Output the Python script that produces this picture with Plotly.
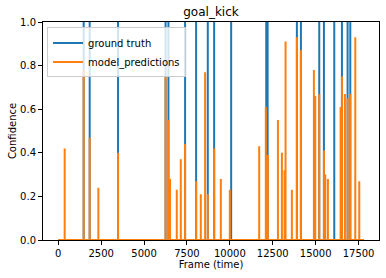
import plotly.graph_objects as go

# ---- data ----
frame_start = 0
frame_end = 17800

gt_frames = [1480, 1830, 3483, 6253, 6420, 7390, 8033, 8713, 9083, 10075,
             12120, 12200, 13905, 14140, 15208, 15480, 16083, 16530, 16860, 17017]
gt_values = [1.0] * len(gt_frames)

pred_frames = [373, 1480, 1830, 2335, 3483, 6253, 6420, 6515, 6905, 7140,
               7390, 8033, 8305, 8557, 8713, 9083, 9473, 9996, 11708, 12095,
               12212, 12800, 13033, 13187, 13245, 13613, 13905, 14140, 14897, 14975,
               15208, 15480, 15558, 15713, 16452, 16530, 16705, 16860, 17017, 17308,
               17541]
pred_values = [0.42, 0.78, 0.47, 0.24, 0.40, 0.75, 0.55, 0.28, 0.23, 0.37,
               0.44, 0.27, 0.21, 0.77, 0.21, 0.42, 0.28, 0.23, 0.43, 0.61,
               0.39, 0.55, 0.40, 0.32, 0.91, 0.23, 0.93, 0.87, 0.78, 0.66,
               0.67, 0.41, 0.30, 0.28, 0.61, 0.75, 0.67, 0.65, 0.67, 0.93,
               0.27]

x_ticks = [0, 2500, 5000, 7500, 10000, 12500, 15000, 17500]
y_ticks = [0.0, 0.2, 0.4, 0.6, 0.8, 1.0]


def spikes(frames, values):
    xs, ys = [frame_start], [0.0]
    for f, v in sorted(zip(frames, values)):
        xs += [f, f, f]
        ys += [0.0, v, 0.0]
    xs.append(frame_end)
    ys.append(0.0)
    return xs, ys


gx, gy = spikes(gt_frames, gt_values)
px, py = spikes(pred_frames, pred_values)

fig = go.Figure()
fig.add_trace(go.Scatter(x=gx, y=gy, mode="lines", name="ground truth",
                         line=dict(color="#1f77b4", width=2)))
fig.add_trace(go.Scatter(x=px, y=py, mode="lines", name="model_predictions",
                         line=dict(color="#ff7f0e", width=2)))

font = "DejaVu Sans"
fig.update_layout(
    width=386, height=278,
    margin=dict(l=43, r=7, t=22, b=38, autoexpand=False),
    paper_bgcolor="white", plot_bgcolor="white",
    font=dict(family=font, size=10, color="black"),
    title=dict(text="goal_kick", x=0.5, xref="paper", xanchor="center",
               y=1 - 12 / 278, yref="container", yanchor="middle",
               font=dict(size=12, family=font, color="black")),
    showlegend=True,
    legend=dict(x=0.012, y=0.975, xanchor="left", yanchor="top",
                bgcolor="rgba(255,255,255,0.8)", bordercolor="#cccccc",
                borderwidth=1, font=dict(size=10, family=font),
                tracegroupgap=0, itemwidth=30),
    xaxis=dict(range=[-890, 18690], tickmode="array", tickvals=x_ticks,
               ticktext=[str(t) for t in x_ticks],
               showgrid=False, zeroline=False, showline=True, linecolor="black",
               linewidth=1, mirror=True, ticks="outside", ticklen=4,
               tickcolor="black", automargin=False,
               title=dict(text="Frame (time)", font=dict(size=10), standoff=2)),
    yaxis=dict(range=[0, 1], tickmode="array", tickvals=y_ticks,
               ticktext=[f"{t:.1f}" for t in y_ticks],
               showgrid=False, zeroline=False, showline=True, linecolor="black",
               linewidth=1, mirror=True, ticks="outside", ticklen=4,
               tickcolor="black", automargin=False,
               title=dict(text="Confidence", font=dict(size=10), standoff=1)),
)

fig.write_html("out.html",
               config={"displayModeBar": False},
               post_script="document.body.style.margin='0';document.body.style.overflow='hidden';")
